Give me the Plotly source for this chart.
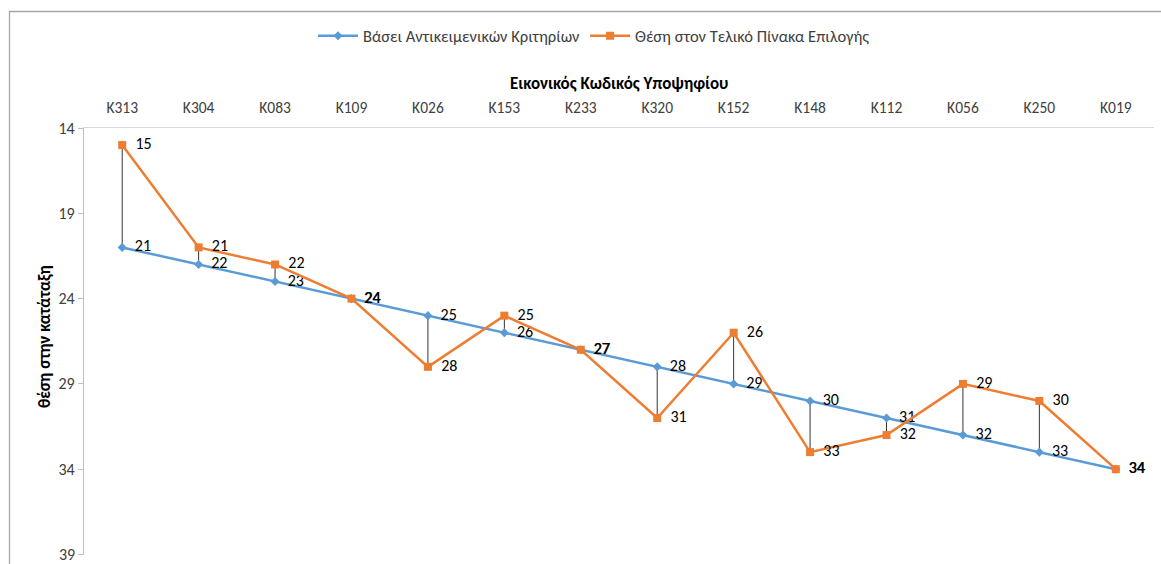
import plotly.graph_objects as go

categories = ["K313", "K304", "K083", "K109", "K026", "K153", "K233",
              "K320", "K152", "K148", "K112", "K056", "K250", "K019"]
objective_rank = [21, 22, 23, 24, 25, 26, 27, 28, 29, 30, 31, 32, 33, 34]
final_rank = [15, 21, 22, 24, 28, 25, 27, 31, 26, 33, 32, 29, 30, 34]
name_objective = "Βάσει Αντικειμενικών Κριτηρίων"
name_final = "Θέση στον Τελικό Πίνακα Επιλογής"
x_title = "Εικονικός Κωδικός Υποψηφίου"
y_title = "θέση στην κατάταξη"
y_ticks = [14, 19, 24, 29, 34, 39]

FONT = "Carlito, Calibri, Lato, 'Open Sans', sans-serif"
W, H = 1161, 564
L, T = 84, 128
R = W - 1154
B = H - 555
pw, ph = W - L - R, H - T - B


def px_x(sx):
    return (sx - L) / pw


def px_y(sy):
    return (H - B - sy) / ph


PAD = "\u00a0\u00a0"

fig = go.Figure()

# high-low drop lines between the two series
hx, hy = [], []
for c, a, b in zip(categories, objective_rank, final_rank):
    hx += [c, c, None]
    hy += [a, b, None]
fig.add_trace(go.Scatter(x=hx, y=hy, mode="lines", line=dict(color="#000000", width=0.8),
                         showlegend=False, hoverinfo="skip"))

fig.add_trace(go.Scatter(
    x=categories, y=objective_rank, name=name_objective,
    mode="lines+markers+text", text=[PAD + str(v) for v in objective_rank],
    textposition="middle right", textfont=dict(size=16, color="#000000", family=FONT),
    line=dict(color="#5B9BD5", width=2.5),
    marker=dict(symbol="diamond", size=7, color="#5B9BD5")))

fig.add_trace(go.Scatter(
    x=categories, y=final_rank, name=name_final,
    mode="lines+markers+text", text=[PAD + str(v) for v in final_rank],
    textposition="middle right", textfont=dict(size=16, color="#000000", family=FONT),
    line=dict(color="#ED7D31", width=2.5),
    marker=dict(symbol="square", size=8, color="#ED7D31")))

# the bottom tick label sits on the figure edge, so it is drawn as an annotation
tick_text = [str(v) if v != y_ticks[-1] else "" for v in y_ticks]

fig.update_layout(
    width=W, height=H,
    margin=dict(l=L, r=R, t=T, b=B, pad=0),
    paper_bgcolor="white", plot_bgcolor="white",
    font=dict(family=FONT, size=15, color="#404040"),
    legend=dict(orientation="h", x=px_x(594), xanchor="center",
                y=px_y(36), yanchor="middle",
                font=dict(size=16.5, color="#404040"), itemwidth=40),
    xaxis=dict(type="category", side="top", range=[-0.5, len(categories) - 0.5],
               showgrid=False, showline=True, linecolor="#D9D9D9", linewidth=1.3,
               ticks="outside", ticklen=8, tickcolor="rgba(0,0,0,0)",
               tickfont=dict(size=15.5, color="#404040"), zeroline=False),
    yaxis=dict(autorange=False, range=[39.03, 14], tickvals=y_ticks, ticktext=tick_text,
               showgrid=False, showline=True, linecolor="#BFBFBF", linewidth=1.3,
               ticks="outside", ticklen=5, tickcolor="#BFBFBF",
               tickfont=dict(size=16, color="#404040"), zeroline=False),
    annotations=[
        dict(text="<b>" + x_title + "</b>", xref="paper", yref="paper",
             x=px_x(619), y=px_y(83), xanchor="center", yanchor="middle",
             showarrow=False, font=dict(size=17, color="#000000")),
        dict(text="<b>" + y_title + "</b>", xref="paper", yref="paper",
             x=px_x(44), y=px_y(337), xanchor="center", yanchor="middle", textangle=-90,
             showarrow=False, font=dict(size=17, color="#000000")),
        dict(text=str(y_ticks[-1]), xref="paper", yref="y",
             x=px_x(77), y=y_ticks[-1], xanchor="right", yanchor="middle",
             showarrow=False, font=dict(size=16, color="#404040")),
    ],
    shapes=[dict(type="rect", xref="paper", yref="paper",
                 x0=px_x(9.5), x1=px_x(1200),
                 y0=px_y(600), y1=px_y(11.5),
                 line=dict(color="#A6A6A6", width=1.3), layer="below")],
)

fig.write_html("out.html", config={"displayModeBar": False},
               post_script="document.body.style.margin='0';document.body.style.overflow='hidden';")
